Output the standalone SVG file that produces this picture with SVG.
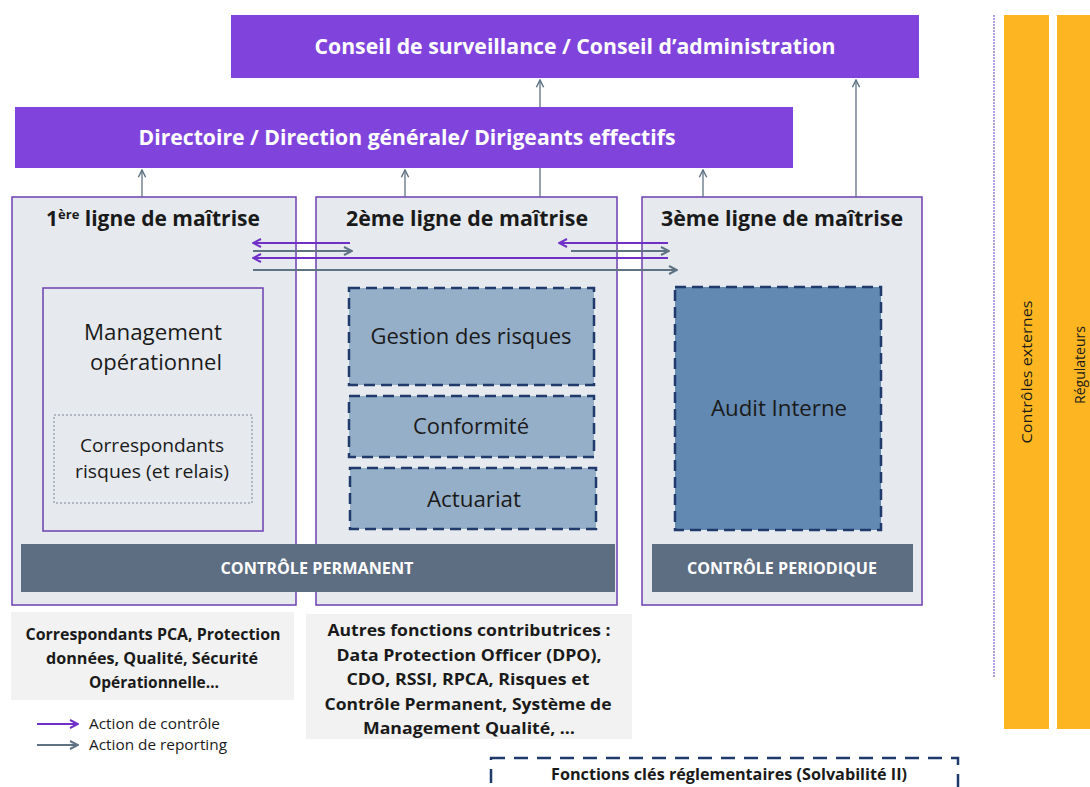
<svg xmlns="http://www.w3.org/2000/svg" width="1090" height="787" viewBox="0 0 1090 787">
<defs>
<style>
text{font-family:"Open Sans","Liberation Sans",sans-serif;fill:#1a1a1a;text-anchor:middle}
.bar{fill:#8044dd}
.bartxt{fill:#fff;font-weight:bold;font-size:21px}
.col{fill:#e6eaef;stroke:#6e3fb0;stroke-width:1.5}
.ttl{font-weight:bold;font-size:21px}
.sub{fill:#5d6d82}
.subtxt{fill:#fff;font-weight:bold;font-size:16px}
.dash{stroke:#1f3a6b;stroke-width:2.5;stroke-dasharray:11 6}
.lbl{font-size:21px}
.note{fill:#f2f2f2}
.notetxt{font-weight:bold;font-size:16.5px}
.orange{fill:#fdb621}
.ctl{stroke:#7030c8;stroke-width:2;fill:none}
.rep{stroke:#5f7283;stroke-width:2;fill:none}
</style>
<marker id="mc" viewBox="0 0 10 10" refX="9" refY="5" markerWidth="5" markerHeight="5" orient="auto-start-reverse" markerUnits="strokeWidth"><path d="M1,1 L9,5 L1,9" fill="none" stroke="#7030c8" stroke-width="2"/></marker>
<marker id="mr" viewBox="0 0 10 10" refX="9" refY="5" markerWidth="5" markerHeight="5" orient="auto-start-reverse" markerUnits="strokeWidth"><path d="M1,1 L9,5 L1,9" fill="none" stroke="#5f7283" stroke-width="2"/></marker>
<marker id="mu" viewBox="0 0 10 10" refX="9" refY="5" markerWidth="7" markerHeight="7" orient="auto" markerUnits="strokeWidth"><path d="M1,1 L9,5 L1,9" fill="none" stroke="#5f7283" stroke-width="1.6"/></marker>
</defs>
<rect width="1090" height="787" fill="#fff"/>

<g id="conseil">
<rect class="bar" x="231" y="15" width="688" height="63"/>
<text class="bartxt" x="575" y="54" textLength="521" lengthAdjust="spacingAndGlyphs">Conseil de surveillance / Conseil d’administration</text>
</g>
<g id="directoire">
<rect class="bar" x="15" y="107" width="778" height="61"/>
<text class="bartxt" x="407" y="145" textLength="537" lengthAdjust="spacingAndGlyphs">Directoire / Direction générale/ Dirigeants effectifs</text>
</g>

<g id="ligne1">
<rect class="col" x="12" y="197" width="284" height="408"/>
<text class="ttl" x="153" y="226">1<tspan font-size="13" dy="-7">ère</tspan><tspan dy="7"> ligne de maîtrise</tspan></text>
</g>
<g id="management">
<rect x="43" y="288" width="220" height="243" fill="#e6eaef" stroke="#6e3fb0" stroke-width="1.5"/>
<text class="lbl" x="153" y="340" textLength="138" lengthAdjust="spacingAndGlyphs">Management</text>
<text class="lbl" x="156" y="370" textLength="132" lengthAdjust="spacingAndGlyphs">opérationnel</text>
</g>
<g id="correspondants">
<rect x="54" y="415" width="198" height="88" fill="none" stroke="#7a8594" stroke-width="1" stroke-dasharray="2 2"/>
<text x="152" y="452" font-size="18" textLength="144" lengthAdjust="spacingAndGlyphs">Correspondants</text>
<text x="152" y="478" font-size="18" textLength="154" lengthAdjust="spacingAndGlyphs">risques (et relais)</text>
</g>

<g id="ligne2">
<rect class="col" x="316" y="197" width="301" height="408"/>
<text class="ttl" x="467" y="226" textLength="242" lengthAdjust="spacingAndGlyphs">2ème ligne de maîtrise</text>
</g>
<g id="gestion-risques">
<rect class="dash" x="349" y="288" width="245" height="97" fill="#96afc8"/>
<text class="lbl" x="471" y="344" textLength="201" lengthAdjust="spacingAndGlyphs">Gestion des risques</text>
</g>
<g id="conformite">
<rect class="dash" x="349" y="396" width="245" height="61" fill="#96afc8"/>
<text class="lbl" x="471" y="434" textLength="116" lengthAdjust="spacingAndGlyphs">Conformité</text>
</g>
<g id="actuariat">
<rect class="dash" x="350" y="468" width="246" height="61" fill="#96afc8"/>
<text class="lbl" x="474" y="507" textLength="94" lengthAdjust="spacingAndGlyphs">Actuariat</text>
</g>

<g id="controle-permanent">
<rect class="sub" x="21" y="544" width="594" height="48"/>
<text class="subtxt" x="317" y="574" textLength="193" lengthAdjust="spacingAndGlyphs">CONTRÔLE PERMANENT</text>
</g>

<g id="ligne3">
<rect class="col" x="642" y="197" width="280" height="408"/>
<text class="ttl" x="782" y="226" textLength="242" lengthAdjust="spacingAndGlyphs">3ème ligne de maîtrise</text>
</g>
<g id="audit-interne">
<rect class="dash" x="675" y="287" width="206" height="243" fill="#6289b1"/>
<text class="lbl" x="779" y="416" textLength="136" lengthAdjust="spacingAndGlyphs">Audit Interne</text>
</g>
<g id="controle-periodique">
<rect class="sub" x="652" y="544" width="261" height="48"/>
<text class="subtxt" x="782" y="574" textLength="190" lengthAdjust="spacingAndGlyphs">CONTRÔLE PERIODIQUE</text>
</g>

<g id="note1">
<rect class="note" x="11" y="612" width="283" height="88"/>
<text class="notetxt" x="153" y="640" textLength="255" lengthAdjust="spacingAndGlyphs">Correspondants PCA, Protection</text>
<text class="notetxt" x="152" y="664" textLength="212" lengthAdjust="spacingAndGlyphs">données, Qualité, Sécurité</text>
<text class="notetxt" x="154" y="688" textLength="130" lengthAdjust="spacingAndGlyphs">Opérationnelle…</text>
</g>
<g id="note2">
<rect class="note" x="306" y="614" width="326" height="125"/>
<text class="notetxt" x="469" y="636" textLength="283" lengthAdjust="spacingAndGlyphs">Autres fonctions contributrices :</text>
<text class="notetxt" x="469" y="661" textLength="265" lengthAdjust="spacingAndGlyphs">Data Protection Officer (DPO),</text>
<text class="notetxt" x="468" y="685" textLength="243" lengthAdjust="spacingAndGlyphs">CDO, RSSI, RPCA, Risques et</text>
<text class="notetxt" x="468" y="710" textLength="287" lengthAdjust="spacingAndGlyphs">Contrôle Permanent, Système de</text>
<text class="notetxt" x="469" y="734" textLength="212" lengthAdjust="spacingAndGlyphs">Management Qualité, …</text>
</g>

<g id="fonctions-cles">
<rect x="491" y="758" width="467" height="40" fill="none" stroke="#1f3a6b" stroke-width="2.5" stroke-dasharray="14 9"/>
<text x="729" y="780" font-size="15.5" font-weight="bold" textLength="356" lengthAdjust="spacingAndGlyphs">Fonctions clés réglementaires (Solvabilité II)</text>
</g>

<g id="legende">
<line class="ctl" x1="37" y1="724" x2="78" y2="724" stroke-width="1.5" marker-end="url(#mc)"/>
<text x="89" y="729" font-size="14" style="text-anchor:start" textLength="131" lengthAdjust="spacingAndGlyphs">Action de contrôle</text>
<line class="rep" x1="37" y1="745" x2="78" y2="745" stroke-width="1.5" marker-end="url(#mr)"/>
<text x="89" y="750" font-size="14" style="text-anchor:start" textLength="138" lengthAdjust="spacingAndGlyphs">Action de reporting</text>
</g>

<g id="externes">
<line x1="994" y1="15" x2="994" y2="677" stroke="#9a7fd8" stroke-width="1.5" stroke-dasharray="2 1"/>
<rect class="orange" x="1004" y="15" width="45" height="714"/>
<text x="0" y="0" font-size="15" transform="translate(1032,372) rotate(-90)" textLength="143" lengthAdjust="spacingAndGlyphs">Contrôles externes</text>
</g>
<g id="regulateurs">
<rect class="orange" x="1057" y="15" width="33" height="714"/>
<text x="0" y="0" font-size="14" transform="translate(1085,365) rotate(-90)" textLength="78" lengthAdjust="spacingAndGlyphs">Régulateurs</text>
</g>

<g id="connecteurs">
<line x1="142" y1="197" x2="142" y2="170" stroke="#5f7283" stroke-width="1.3" marker-end="url(#mu)"/>
<line x1="405" y1="197" x2="405" y2="170" stroke="#5f7283" stroke-width="1.3" marker-end="url(#mu)"/>
<line x1="540" y1="197" x2="540" y2="168" stroke="#5f7283" stroke-width="1.3"/>
<line x1="540" y1="107" x2="540" y2="80" stroke="#5f7283" stroke-width="1.3" marker-end="url(#mu)"/>
<line x1="703" y1="197" x2="703" y2="170" stroke="#5f7283" stroke-width="1.3" marker-end="url(#mu)"/>
<line x1="856" y1="197" x2="856" y2="80" stroke="#5f7283" stroke-width="1.3" marker-end="url(#mu)"/>

<line class="ctl" x1="350" y1="243" x2="253" y2="243" marker-end="url(#mc)"/>
<line class="rep" x1="253" y1="251" x2="352" y2="251" marker-end="url(#mr)"/>
<line class="ctl" x1="668" y1="258" x2="253" y2="258" marker-end="url(#mc)"/>
<line class="rep" x1="253" y1="270" x2="677" y2="270" marker-end="url(#mr)"/>
<line class="ctl" x1="668" y1="243" x2="559" y2="243" marker-end="url(#mc)"/>
<line class="rep" x1="571" y1="251" x2="669" y2="251" marker-end="url(#mr)"/>
</g>
</svg>
